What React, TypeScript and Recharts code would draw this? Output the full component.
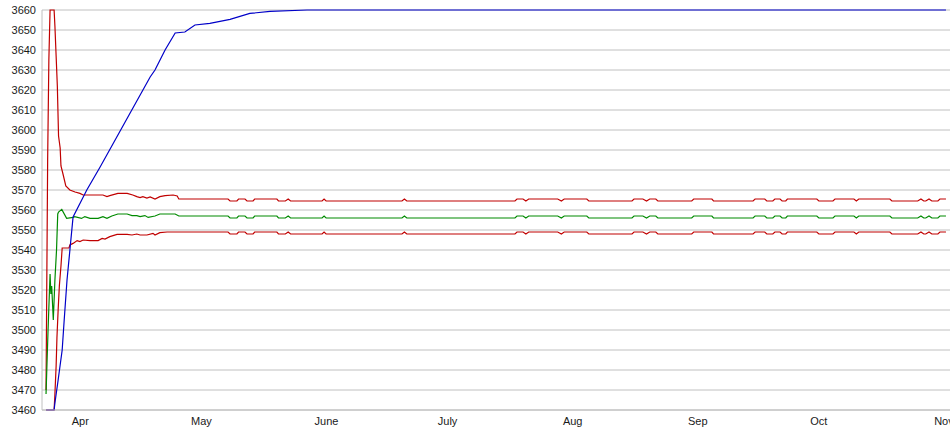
import { CartesianGrid, Line, LineChart, XAxis, YAxis } from "recharts";

// x values are days counted from Mar 23
const monthTicks = [9, 39, 70, 100, 131, 162, 192, 223];
const monthNames = ["Apr", "May", "June", "July", "Aug", "Sep", "Oct", "Nov"];
const valueTicks = [
  3460, 3470, 3480, 3490, 3500, 3510, 3520, 3530, 3540, 3550, 3560, 3570, 3580,
  3590, 3600, 3610, 3620, 3630, 3640, 3650, 3660,
];

// start-up part of each series
const maxHeadDays = [
  0.5, 0.9, 1.2, 1.5, 2.5, 2.7, 3.0, 3.3, 3.6, 4.0, 4.2, 4.7, 5.4, 6.4, 7.7, 8.9,
  9.7, 14.6, 15.6, 16.3, 18.3, 20.6, 22.0, 23.0, 23.8, 24.5, 25.5, 26.3, 27.5,
  28.7, 30.0, 32.0, 33.0,
];
const maxHeadVals = [
  3470, 3585, 3635, 3660, 3660, 3652, 3637, 3622, 3597, 3591, 3582, 3578, 3572,
  3570, 3569, 3568.3, 3567.5, 3567.5, 3566.7, 3567.2, 3568.3, 3568.3, 3567.5,
  3566.7, 3566.2, 3566.7, 3566, 3566.5, 3565.5, 3566.7, 3567.2, 3567.5, 3567,
];

const meanHeadDays = [
  0.5, 1.0, 1.5, 1.7, 1.9, 2.3, 2.7, 3.1, 3.4, 3.6, 4.4, 5.6, 7.2, 7.6, 9.3,
  10.1, 11.4, 13.4, 14.6, 15.6, 16.8, 18.3, 20.6, 21.8, 23.0, 23.8, 25.0, 25.8,
  27.5, 28.7, 32.5,
];
const meanHeadVals = [
  3468, 3500, 3528, 3518, 3522, 3505, 3525, 3540, 3558, 3559, 3560.3, 3555.8,
  3556.3, 3556.7, 3555.8, 3556.7, 3555.8, 3555.8, 3556.7, 3555.8, 3557, 3558,
  3558, 3557.2, 3557.2, 3556.7, 3557.2, 3556.3, 3557, 3558, 3558,
];

const minHeadDays = [
  0.5, 2.5, 2.7, 3.0, 3.2, 3.5, 3.8, 4.2, 4.5, 6.2, 6.4, 7.2, 8.2, 8.9, 9.7,
  11.4, 13.4, 14.4, 15.1, 16.3, 18.1, 20.6, 21.8, 23.0, 23.8, 25.5, 27.0, 27.5,
  28.7, 30.5,
];
const minHeadVals = [
  3460, 3460, 3468, 3482, 3496, 3510, 3522, 3532, 3541, 3541, 3542.5, 3543.3,
  3544.7, 3544.2, 3545, 3544.7, 3544.7, 3545.8, 3545.5, 3546.7, 3547.8, 3547.8,
  3547.5, 3548, 3547.5, 3547.5, 3548.3, 3547.5, 3548.7, 3549,
];

// settled part, the three series move together
const tailDays = [
  33.4, 45.6, 46.1, 47.8, 48.2, 49.8, 50.3, 51.8, 52.2, 57.7,
  58.1, 59.8, 60.5, 61.1, 68.9, 69.4, 69.9, 88.7, 89.3, 89.9,
  116.7, 117.2, 118.7, 119.4, 120.1, 127.3, 128.2, 128.9, 134.5, 135.0,
  145.7, 146.2, 148.4, 149.3, 150.1, 151.6, 152.1, 160.5, 161.0, 165.5,
  165.9, 175.7, 176.2, 178.6, 179.1, 180.6, 181.1, 182.4, 182.9, 183.8,
  184.2, 191.5, 192.0, 195.5, 196.0, 200.7, 201.3, 201.9, 209.6, 210.1,
  216.5, 217.3, 218.0, 218.5, 219.3, 220.0, 221.5, 222.0, 223.5,
];
const maxTailVals = [
  3565.5, 3565.5, 3564.5, 3564.5, 3565.5, 3565.5, 3564.5, 3564.5, 3565.5, 3565.5,
  3564.5, 3564.5, 3565.5, 3564.5, 3564.5, 3565.5, 3564.5, 3564.5, 3565.5, 3564.5,
  3564.5, 3565.5, 3565.5, 3564.5, 3565.5, 3565.5, 3564.5, 3565.5, 3565.5, 3564.5,
  3564.5, 3565.5, 3565.5, 3564.5, 3565.5, 3565.5, 3564.5, 3564.5, 3565.5, 3565.5,
  3564.5, 3564.5, 3565.5, 3565.5, 3564.5, 3564.5, 3565.5, 3565.5, 3564.5, 3564.5,
  3565.5, 3565.5, 3564.5, 3564.5, 3565.5, 3565.5, 3564.5, 3565.5, 3565.5, 3564.5,
  3564.5, 3565.5, 3564.5, 3564.5, 3565.5, 3564.5, 3564.5, 3565.5, 3565.5,
];
const meanTailVals = [
  3557, 3557, 3556, 3556, 3557, 3557, 3556, 3556, 3557, 3557,
  3556, 3556, 3557, 3556, 3556, 3557, 3556, 3556, 3557, 3556,
  3556, 3557, 3557, 3556, 3557, 3557, 3556, 3557, 3557, 3556,
  3556, 3557, 3557, 3556, 3557, 3557, 3556, 3556, 3557, 3557,
  3556, 3556, 3557, 3557, 3556, 3556, 3557, 3557, 3556, 3556,
  3557, 3557, 3556, 3556, 3557, 3557, 3556, 3557, 3557, 3556,
  3556, 3557, 3556, 3556, 3557, 3556, 3556, 3557, 3557,
];
const minTailVals = [
  3549, 3549, 3548, 3548, 3549, 3549, 3548, 3548, 3549, 3549,
  3548, 3548, 3549, 3548, 3548, 3549, 3548, 3548, 3549, 3548,
  3548, 3549, 3549, 3548, 3549, 3549, 3548, 3549, 3549, 3548,
  3548, 3549, 3549, 3548, 3549, 3549, 3548, 3548, 3549, 3549,
  3548, 3548, 3549, 3549, 3548, 3548, 3549, 3549, 3548, 3548,
  3549, 3549, 3548, 3548, 3549, 3549, 3548, 3549, 3549, 3548,
  3548, 3549, 3548, 3548, 3549, 3548, 3548, 3549, 3549,
];

const blueDays = [
  0.5, 2.5, 2.7, 3.5, 4.5, 5.0, 5.7, 7.2, 10.6, 13.9, 20.1, 26.3, 27.5, 30.0,
  32.5, 34.9, 37.4, 41.1, 46.1, 51.0, 56.0, 65.2, 223.5,
];
const blueVals = [
  3460, 3460, 3463.5, 3475, 3490, 3505, 3525, 3556.5, 3570, 3581.5, 3604,
  3626.5, 3630, 3640, 3648.5, 3649, 3652.5, 3653.3, 3655.3, 3658.3, 3659.3,
  3660, 3660,
];

const toPts = (days: number[], vals: number[]) =>
  days.map((d, i) => ({ d, v: vals[i] }));

const maxData = [...toPts(maxHeadDays, maxHeadVals), ...toPts(tailDays, maxTailVals)];
const meanData = [...toPts(meanHeadDays, meanHeadVals), ...toPts(tailDays, meanTailVals)];
const minData = [...toPts(minHeadDays, minHeadVals), ...toPts(tailDays, minTailVals)];
const blueData = toPts(blueDays, blueVals);

const tickStyle = {
  fontSize: 11,
  fontFamily: "'Liberation Sans', Arial, sans-serif",
  fill: "#1a1a1a",
};

export default function App() {
  return (
    <div style={{ width: 950, height: 435, background: "#fff" }}>
      <style>{"body{margin:0}"}</style>
      <LineChart
        width={950}
        height={435}
        margin={{ top: 10, right: 0, left: 0, bottom: 0 }}
      >
        <CartesianGrid stroke="#c0c0c0" vertical={false} />
        <XAxis
          dataKey="d"
          type="number"
          domain={[-0.5, 224.5]}
          ticks={monthTicks}
          tickFormatter={(t: number) => monthNames[monthTicks.indexOf(t)]}
          interval={0}
          height={25}
          tick={tickStyle}
          tickLine={false}
          tickSize={0}
          tickMargin={7}
          axisLine={{ stroke: "#c0c0c0" }}
        />
        <YAxis
          type="number"
          domain={[3460, 3660]}
          ticks={valueTicks}
          interval={0}
          width={42}
          tick={tickStyle}
          tickLine={false}
          tickSize={0}
          tickMargin={6}
          axisLine={{ stroke: "#c0c0c0" }}
        />
        <Line data={maxData} dataKey="v" type="linear" stroke="#c00000" strokeWidth={1.2} dot={false} isAnimationActive={false} />
        <Line data={meanData} dataKey="v" type="linear" stroke="#008a00" strokeWidth={1.2} dot={false} isAnimationActive={false} />
        <Line data={minData} dataKey="v" type="linear" stroke="#c00000" strokeWidth={1.2} dot={false} isAnimationActive={false} />
        <Line data={blueData} dataKey="v" type="linear" stroke="#0000c8" strokeWidth={1.2} dot={false} isAnimationActive={false} />
      </LineChart>
    </div>
  );
}
